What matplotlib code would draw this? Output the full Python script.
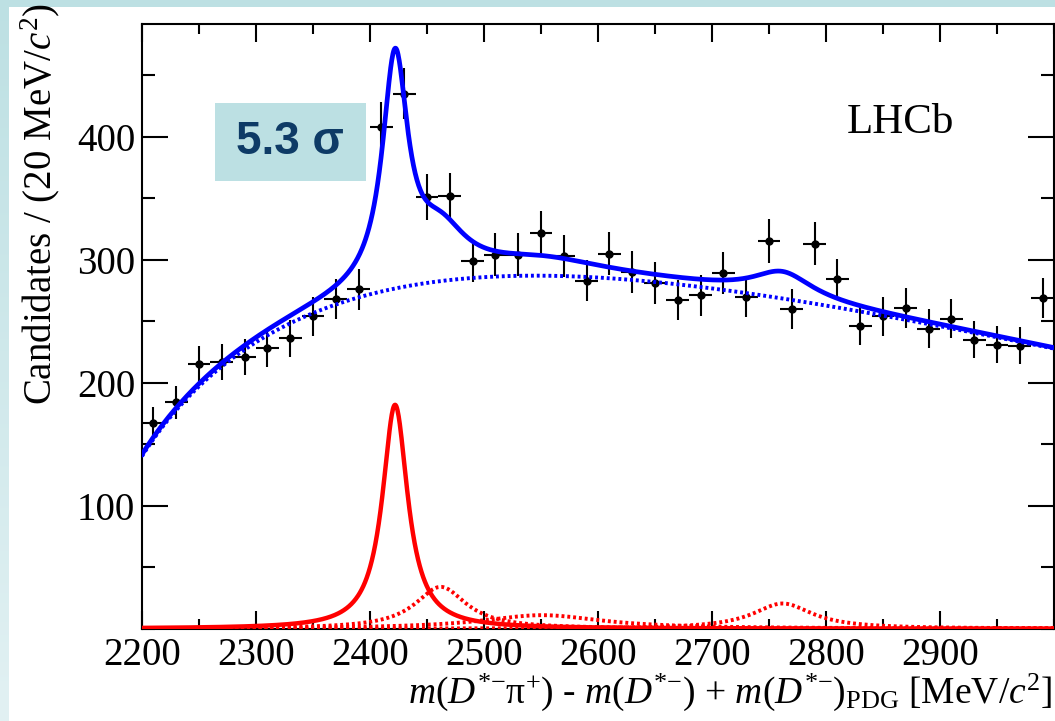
import numpy as np
import matplotlib
matplotlib.use("Agg")
import matplotlib.pyplot as plt
from matplotlib.patches import Rectangle
from matplotlib.ticker import MultipleLocator, FixedLocator
from matplotlib.colors import LinearSegmentedColormap

plt.rcParams["font.family"] = ["Liberation Serif", "DejaVu Serif"]
plt.rcParams["mathtext.fontset"] = "custom"
plt.rcParams["mathtext.rm"] = "Liberation Serif"
plt.rcParams["mathtext.it"] = "Liberation Serif:italic"
plt.rcParams["mathtext.bf"] = "Liberation Serif:bold"

# ---- data: D*- pi+ candidates in 20 MeV bins ----
bin_width = 20.0
bin_centers = np.arange(2210, 3000, 20)
counts = [167, 184, 215, 217, 221, 228, 236, 254, 268, 276,
          408, 435, 351, 352, 299, 304, 304, 322, 303, 283,
          305, 290, 281, 267, 271, 289, 270, 315, 260, 313,
          284, 246, 254, 261, 244, 252, 235, 231, 230, 269]

# ---- fit model parameters ----
bkg_threshold = 2150.0     # kinematic threshold of background shape
bkg_peak_pos = 395.0       # distance above threshold where background peaks
bkg_power = 0.60
bkg_peak_height = 287.0

# resonance components: (mass, width, peak height per bin)
main_mass, main_width, main_height = 2422.0, 27.0, 182.0
other_masses = [2462.0, 2551.0, 2762.0]
other_widths = [55.0, 130.0, 64.0]
other_heights = [34.0, 11.0, 20.5]

x_min, x_max = 2200.0, 3000.0
y_max = 492.0


def background(m):
    u = (m - bkg_threshold) / bkg_peak_pos
    return bkg_peak_height * u ** bkg_power * np.exp(bkg_power * (1.0 - u))


def breit_wigner(m, mass, width, height):
    hw = 0.5 * width
    return height * hw ** 2 / ((m - mass) ** 2 + hw ** 2)


m = np.linspace(x_min, x_max, 1600)
bkg = background(m)
main_sig = breit_wigner(m, main_mass, main_width, main_height)
others = [breit_wigner(m, mm, ww, hh)
          for mm, ww, hh in zip(other_masses, other_widths, other_heights)]
total = bkg + main_sig + np.sum(others, axis=0)

W, H = 1055, 721
fig = plt.figure(figsize=(W / 100, H / 100), dpi=100)

# slide-style frame: teal band on top and a fading strip on the left
bg = fig.add_axes([0, 0, 1, 1], zorder=-10)
cmap = LinearSegmentedColormap.from_list("frame", ["#bde0e3", "#e2f1f3"])
bg.imshow(np.linspace(0, 1, 256)[:, None], cmap=cmap, aspect="auto",
          extent=[0, 1, 0, 1], origin="upper")
bg.add_patch(Rectangle((9 / W, 0), 1, (H - 7) / H, facecolor="white",
                       edgecolor="none", transform=bg.transAxes))
bg.set_xlim(0, 1)
bg.set_ylim(0, 1)
bg.axis("off")

ax = fig.add_axes([142 / W, (H - 628.7) / H, 912 / W, 605.2 / H])
ax.set_facecolor("white")

# data with Poisson errors
yerr = np.sqrt(np.asarray(counts, dtype=float))
ax.errorbar(bin_centers, counts, xerr=bin_width / 2, yerr=yerr, fmt="o",
            color="black", ms=5, elinewidth=1.5, capsize=0, zorder=3)

dotted = (0, (0.75, 0.75))
for comp in others:
    ax.plot(m, comp, color="red", lw=2.8, linestyle=dotted,
            dash_capstyle="butt", zorder=4)
ax.plot(m, main_sig, color="red", lw=3.2, zorder=5)
ax.plot(m, bkg, color="blue", lw=2.8, linestyle=dotted,
        dash_capstyle="butt", zorder=6)
ax.plot(m, total, color="blue", lw=3.4, zorder=7)

ax.set_xlim(x_min, x_max)
ax.set_ylim(0, y_max)

ax.xaxis.set_major_locator(FixedLocator(np.arange(2200, 3000, 100)))
ax.xaxis.set_minor_locator(MultipleLocator(50))
ax.yaxis.set_major_locator(FixedLocator([100, 200, 300, 400]))
ax.yaxis.set_minor_locator(MultipleLocator(50))

ax.tick_params(axis="both", which="both", direction="in", top=True,
               right=True, width=1.5, labelsize=28, colors="black")
ax.tick_params(axis="x", which="major", length=13, pad=6)
ax.tick_params(axis="x", which="minor", length=7)
ax.tick_params(axis="y", which="major", length=19, pad=5)
ax.tick_params(axis="y", which="minor", length=9.5)
for s in ax.spines.values():
    s.set_linewidth(1.5)

fig.text(1052 / W, (H - 703) / H,
         r"$m(D^{*{-}}\mathrm{\pi}^{+})$ - $m(D^{*{-}})$ + "
         r"$m(D^{*{-}})_{\mathrm{PDG}}$ [MeV/$c^{2}$]",
         ha="right", va="baseline", fontsize=27)
fig.text(40 / W, (H - 3) / H, r"Candidates / (20 MeV/$c^{2}$)",
         rotation=90, ha="center", va="top", fontsize=28)

fig.text(900 / W, (H - 123) / H, "LHCb", ha="center", va="center",
         fontsize=31)

# significance badge
fig.patches.append(Rectangle((215 / W, (H - 181) / H), 151 / W, 78.3 / H,
                             facecolor="#bce0e3", edgecolor="none",
                             transform=fig.transFigure, figure=fig, zorder=8))
fig.text(290 / W, (H - 142) / H, "5.3 σ", ha="center", va="center",
         fontsize=33, fontweight="bold", color="#0e3b66",
         family=["Liberation Sans", "DejaVu Sans"], zorder=9)

fig.savefig("out.png", dpi=100)
